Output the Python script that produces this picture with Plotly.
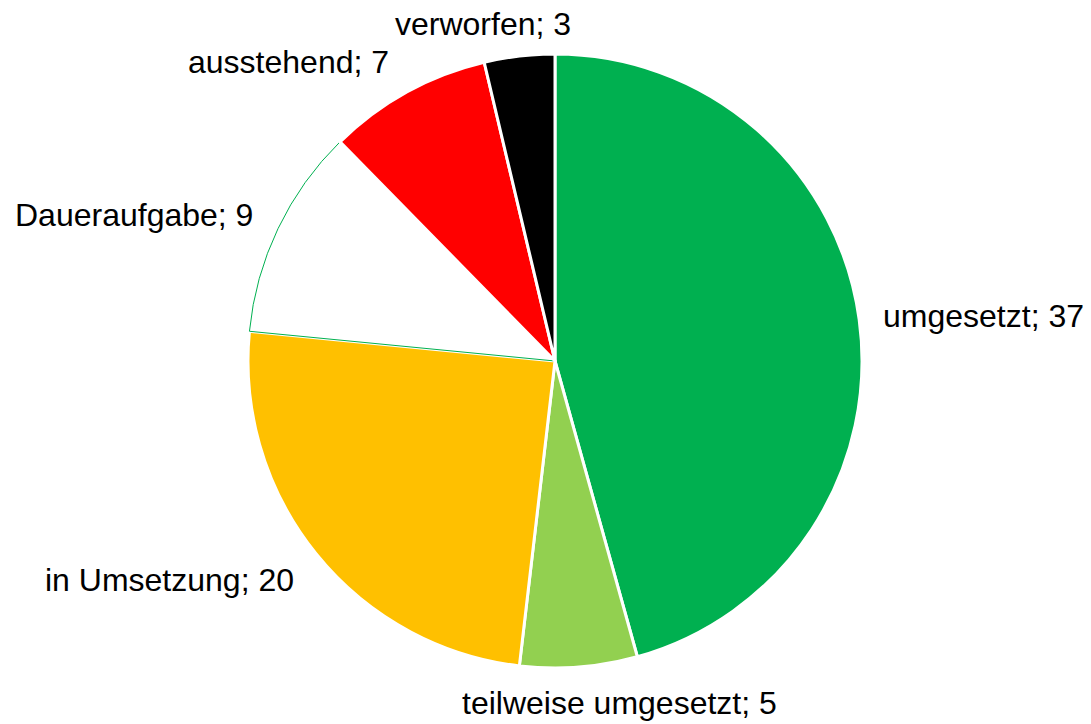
import plotly.graph_objects as go

labels = ["umgesetzt", "teilweise umgesetzt", "in Umsetzung", "Daueraufgabe", "ausstehend", "verworfen"]
values = [37, 5, 20, 9, 7, 3]
colors = ["#00B050", "#92D050", "#FFC000", "#FFFFFF", "#FF0000", "#000000"]
line_colors = ["#FFFFFF", "#FFFFFF", "#FFFFFF", "#00B050", "#FFFFFF", "#FFFFFF"]
line_widths = [3, 3, 3, 1, 3, 3]
# label centres (figure pixels)
label_px = [(975, 308), (612, 695), (161, 572), (126, 207), (280, 54), (475, 16)]

W, H = 1091, 724
cx, cy, r = 547, 353, 307

fig = go.Figure(go.Pie(
    labels=labels,
    values=values,
    sort=False,
    direction="clockwise",
    rotation=0,
    marker=dict(colors=colors, line=dict(color=line_colors, width=line_widths)),
    textinfo="none",
    showlegend=False,
    hoverinfo="label+value",
    domain=dict(x=[(cx - r) / W, (cx + r) / W], y=[1 - (cy + r) / H, 1 - (cy - r) / H]),
))

for lab, val, (px, py) in zip(labels, values, label_px):
    fig.add_annotation(
        text=f"{lab}; {val}",
        x=px / W, y=1 - py / H, xref="paper", yref="paper",
        xanchor="center", yanchor="middle", showarrow=False,
        font=dict(family="Liberation Sans, Arial, sans-serif", size=32, color="black"),
    )

fig.update_layout(
    width=W, height=H,
    margin=dict(l=0, r=0, t=0, b=0),
    paper_bgcolor="white",
    plot_bgcolor="white",
)

fig.write_html("out.html")
